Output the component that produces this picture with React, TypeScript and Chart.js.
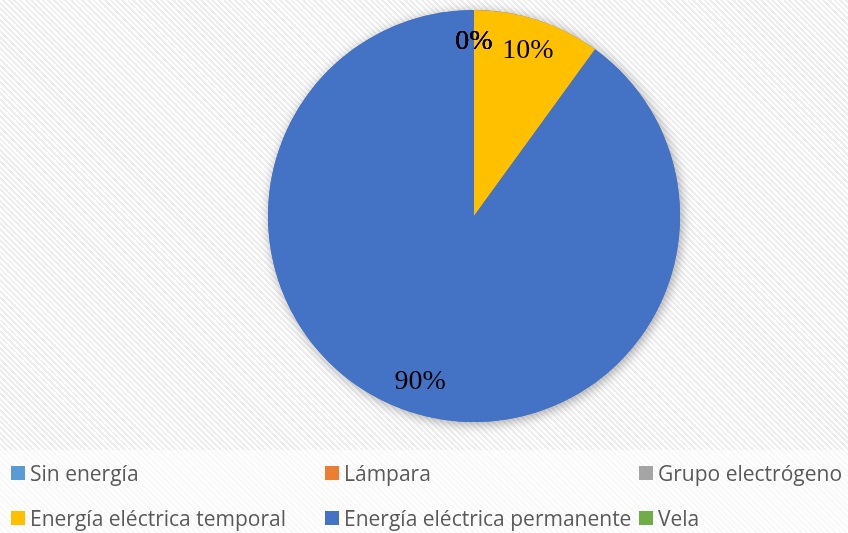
import React, { useEffect, useRef } from "react";
import { Chart, registerables } from "chart.js";

Chart.register(...registerables);

const categories = [
  "Sin energía",
  "Lámpara",
  "Grupo electrógeno",
  "Energía eléctrica temporal",
  "Energía eléctrica permanente",
  "Vela",
];
const values = [0, 0, 0, 10, 90, 0];
const colors = ["#5B9BD5", "#ED7D31", "#A5A5A5", "#FFC000", "#4472C4", "#70AD47"];

const shadowPlugin = {
  id: "pieShadow",
  beforeDatasetsDraw(chart: any) {
    const meta = chart.getDatasetMeta(0);
    const arc = meta.data[0];
    if (!arc) return;
    const { x, y, outerRadius } = arc.getProps(["x", "y", "outerRadius"], true);
    const ctx = chart.ctx;
    ctx.save();
    ctx.shadowColor = "rgba(0,0,0,0.35)";
    ctx.shadowBlur = 12;
    ctx.shadowOffsetX = 2;
    ctx.shadowOffsetY = 2;
    ctx.beginPath();
    ctx.arc(x, y, outerRadius, 0, Math.PI * 2);
    ctx.fillStyle = "#4472C4";
    ctx.fill();
    ctx.restore();
  },
};

const labelPlugin = {
  id: "pieLabels",
  afterDatasetsDraw(chart: any) {
    const ds = chart.data.datasets[0].data as number[];
    const total = ds.reduce((a, b) => a + b, 0);
    const meta = chart.getDatasetMeta(0);
    const ctx = chart.ctx;
    ctx.save();
    ctx.font = "28px 'Liberation Serif', 'Times New Roman', serif";
    ctx.fillStyle = "#000000";
    ctx.textAlign = "center";
    ctx.textBaseline = "middle";
    meta.data.forEach((el: any, i: number) => {
      const p = el.getProps(["x", "y", "startAngle", "endAngle", "outerRadius"], true);
      const mid = (p.startAngle + p.endAngle) / 2;
      const r = p.outerRadius * 0.845;
      const pct = Math.round((ds[i] / total) * 100);
      ctx.fillText(pct + "%", p.x + Math.cos(mid) * r, p.y + Math.sin(mid) * r);
    });
    ctx.restore();
  },
};

const legendRows = [
  [0, 1, 2],
  [3, 4, 5],
];

export default function App() {
  const canvasRef = useRef<HTMLCanvasElement | null>(null);

  useEffect(() => {
    const canvas = canvasRef.current;
    if (!canvas) return;
    const chart = new Chart(canvas, {
      type: "pie",
      data: {
        labels: categories,
        datasets: [
          {
            data: values,
            backgroundColor: colors,
            borderWidth: 0,
          },
        ],
      },
      options: {
        responsive: false,
        animation: false,
        layout: { padding: { left: 268, right: 168, top: 10, bottom: 111 } },
        plugins: {
          legend: { display: false },
          tooltip: { enabled: false },
        },
      },
      plugins: [shadowPlugin, labelPlugin],
    });
    return () => chart.destroy();
  }, []);

  return (
    <div
      style={{
        position: "absolute",
        left: 0,
        top: 0,
        width: 848,
        height: 533,
        overflow: "hidden",
        background:
          "repeating-linear-gradient(45deg, #ffffff 0px, #ffffff 2px, #eeeeee 2px, #eeeeee 4px)",
      }}
    >
      <div
        style={{
          position: "absolute",
          left: 0,
          top: 450,
          width: 848,
          height: 83,
          background: "rgba(255,255,255,0.6)",
        }}
      />
      <canvas
        ref={canvasRef}
        width={848}
        height={533}
        style={{ position: "absolute", left: 0, top: 0, width: 848, height: 533 }}
      />
      {legendRows.map((row, ri) =>
        row.map((idx, ci) => (
          <div
            key={idx}
            style={{
              position: "absolute",
              left: 11 + ci * 314,
              top: (ri === 0 ? 473 : 518) - 14,
              height: 28,
              display: "flex",
              alignItems: "center",
              whiteSpace: "nowrap",
              fontFamily: "'Open Sans', sans-serif",
              fontSize: 21,
              color: "#595959",
            }}
          >
            <span
              style={{
                display: "inline-block",
                width: 14,
                height: 14,
                background: colors[idx],
                marginRight: 5,
              }}
            />
            <span>{categories[idx]}</span>
          </div>
        ))
      )}
    </div>
  );
}
